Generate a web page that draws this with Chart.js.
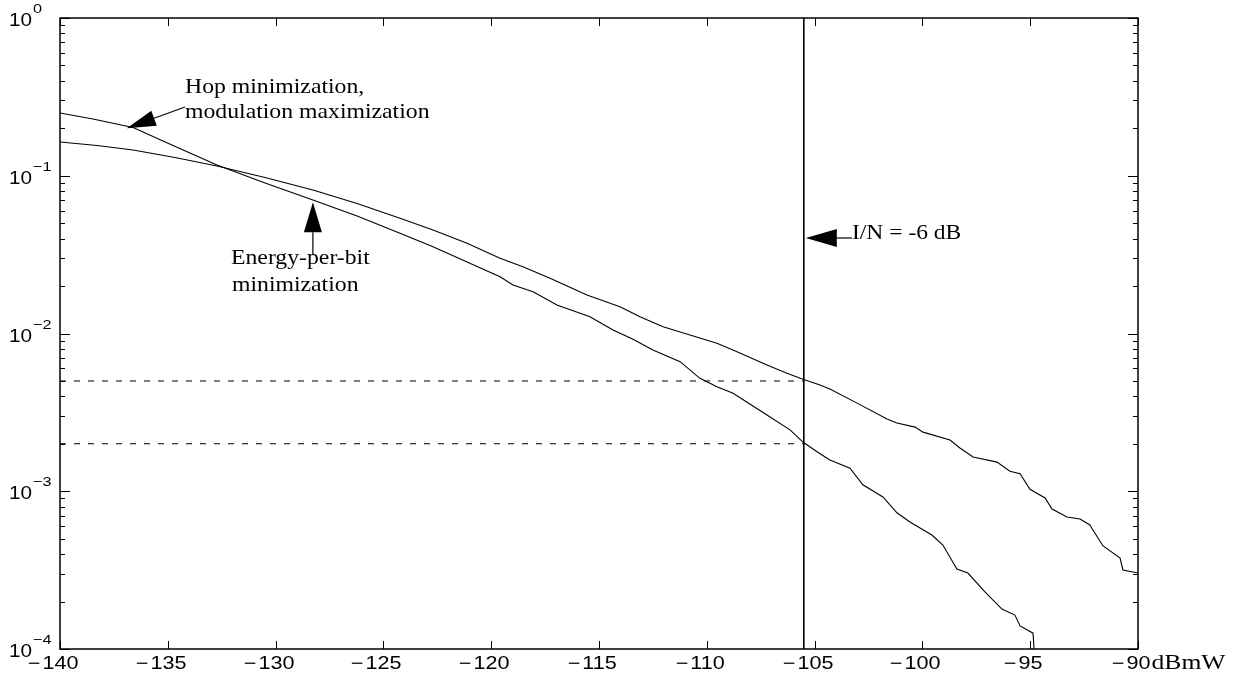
<!DOCTYPE html>
<html>
<head>
<meta charset="utf-8">
<script src="https://cdn.jsdelivr.net/npm/chart.js@4/dist/chart.umd.min.js"></script>
<style>
  html, body { margin: 0; padding: 0; background: #fff; }
  canvas { display: block; }
</style>
</head>
<body>
<canvas id="chart" width="1235" height="673"></canvas>
<script>
// hop minimization, modulation maximization (starts higher, ends lower)
const hopX = [-140, -138.47, -136.61, -134.81, -132.72, -130.49, -128.27, -126.22, -124.23, -122.70,
    -119.59, -118.99, -118.06, -116.95, -115.42, -114.35, -113.42, -112.50, -111.24, -110.32,
    -109.53, -108.78, -107.21, -106.14, -105.54, -104.89, -104.29, -103.36, -102.76, -101.83,
    -101.18, -100.58, -99.56, -99.05, -98.40, -97.89, -97.10, -96.31, -95.71, -95.47, -94.87, -94.82];
const hopY = [0.2499, 0.2290, 0.2022, 0.1566, 0.1170, 0.0899, 0.0702, 0.0556, 0.04317, 0.03549,
    0.02291, 0.02030, 0.01841, 0.01516, 0.01278, 0.01052, 0.00919, 0.00786, 0.00663, 0.00520,
    0.00460, 0.00418, 0.00304, 0.00245, 0.00205, 0.00178, 0.00158, 0.00140, 0.00110, 0.00092,
    0.00073, 0.000638, 0.000528, 0.000456, 0.000321, 0.000303, 0.00023, 0.000179, 0.000164,
    0.00014, 0.000126, 0.0001];

// energy-per-bit minimization
const ebX = [-140, -138.28, -136.61, -134.67, -132.72, -130.49, -128.27, -126.22, -124.23, -122.70,
    -121.12, -119.59, -118.53, -117.27, -115.56, -114.03, -113.10, -112.03, -110.78, -109.53,
    -108.60, -107.21, -106.28, -105.54, -104.75, -104.29, -103.03, -101.64, -101.18, -100.34,
    -99.97, -98.72, -98.26, -97.65, -96.54, -95.94, -95.47, -95.01, -94.31, -93.99, -93.29,
    -92.69, -92.23, -92.09, -91.62, -90.83, -90.70, -90];
const ebY = [0.1636, 0.1555, 0.1456, 0.1305, 0.1153, 0.0975, 0.0812, 0.0667, 0.05373, 0.04530,
    0.03729, 0.02997, 0.02652, 0.02239, 0.01754, 0.01478, 0.01278, 0.01104, 0.00978, 0.00867,
    0.00766, 0.00632, 0.00559, 0.00513, 0.00472, 0.00445, 0.00362, 0.00287, 0.00271, 0.00255,
    0.00237, 0.00211, 0.00188, 0.00165, 0.00153, 0.00134, 0.00129, 0.00103, 0.000906, 0.000771,
    0.000687, 0.000667, 0.000611, 0.000568, 0.000450, 0.000377, 0.000317, 0.000303];

const limitX = -105.5;          // I/N = -6 dB
const targetLevels = [5e-3, 2e-3];
const xTicks = [-140, -135, -130, -125, -120, -115, -110, -105, -100, -95, -90];
const yExponents = [0, -1, -2, -3, -4];

const pts = (xs, ys) => xs.map((x, i) => ({ x: x, y: ys[i] }));

const lineStyle = { borderColor: '#000', borderWidth: 1.1, pointRadius: 0, tension: 0, fill: false };

const datasets = [
    Object.assign({ data: pts(hopX, hopY) }, lineStyle),
    Object.assign({ data: pts(ebX, ebY) }, lineStyle),
    Object.assign({ data: [{ x: limitX, y: 1e-4 }, { x: limitX, y: 1 }] }, lineStyle, { borderWidth: 1.6 })
];
targetLevels.forEach(level => {
    datasets.push(Object.assign({ data: [{ x: -140, y: level }, { x: limitX, y: level }] },
        lineStyle, { borderWidth: 1, borderDash: [6, 8] }));
});

const SANS = '"Liberation Sans", Arial, sans-serif';
const SERIF = '"Liberation Serif", "Times New Roman", serif';

// text drawn a bit wider than the font, as in the source picture
function wideText(ctx, str, x, y, font, sx, align) {
    ctx.save();
    ctx.font = font;
    const w = ctx.measureText(str).width * sx;
    let left = x;
    if (align === 'center') left = x - w / 2;
    if (align === 'right') left = x - w;
    ctx.translate(left, y);
    ctx.scale(sx, 1);
    ctx.textAlign = 'left';
    ctx.fillText(str, 0, 0);
    ctx.restore();
    return w;
}

function arrowHead(ctx, tx, ty, fromX, fromY, len, half) {
    const a = Math.atan2(ty - fromY, tx - fromX);
    const bx = tx - len * Math.cos(a), by = ty - len * Math.sin(a);
    ctx.beginPath();
    ctx.moveTo(tx, ty);
    ctx.lineTo(bx + half * Math.sin(a), by - half * Math.cos(a));
    ctx.lineTo(bx - half * Math.sin(a), by + half * Math.cos(a));
    ctx.closePath();
    ctx.fill();
    return [bx, by];
}

const framePlugin = {
    id: 'frame',
    afterDraw(chart) {
        const ctx = chart.ctx;
        const area = chart.chartArea;
        const xs = chart.scales.x, ys = chart.scales.y;
        ctx.save();
        ctx.strokeStyle = '#000';
        ctx.fillStyle = '#000';
        ctx.textBaseline = 'alphabetic';

        // box
        ctx.lineWidth = 1.5;
        ctx.strokeRect(area.left, area.top, area.right - area.left, area.bottom - area.top);

        // x ticks, inward top and bottom; digits centred, minus hanging left
        ctx.lineWidth = 1;
        const tickFont = '18px ' + SANS;
        xTicks.forEach(v => {
            const px = Math.round(xs.getPixelForValue(v)) + 0.5;
            ctx.beginPath();
            ctx.moveTo(px, area.bottom); ctx.lineTo(px, area.bottom - 8);
            ctx.moveTo(px, area.top); ctx.lineTo(px, area.top + 8);
            ctx.stroke();
            const w = wideText(ctx, String(Math.abs(v)), px, area.bottom + 20, tickFont, 1.2, 'center');
            if (v < 0) wideText(ctx, '\u2212', px - w / 2 - 2, area.bottom + 20, tickFont, 1.2, 'right');
            if (v === -90) wideText(ctx, 'dBmW', px + w / 2 + 1, area.bottom + 20, '21px ' + SERIF, 1.22, 'left');
        });

        // y ticks, log scale with minor ticks, left and right
        yExponents.forEach(e => {
            for (let m = 1; m <= 9; m++) {
                const v = m * Math.pow(10, e - 1);
                if (v < ys.min * 0.999 || v > ys.max * 1.001) continue;
                const py = Math.round(ys.getPixelForValue(v)) + 0.5;
                const len = m === 1 ? 10 : 5;
                ctx.beginPath();
                ctx.moveTo(area.left, py); ctx.lineTo(area.left + len, py);
                ctx.moveTo(area.right, py); ctx.lineTo(area.right - len, py);
                ctx.stroke();
            }
        });
        const topPy = Math.round(ys.getPixelForValue(1)) + 0.5;
        ctx.beginPath();
        ctx.moveTo(area.left, topPy); ctx.lineTo(area.left + 10, topPy);
        ctx.moveTo(area.right, topPy); ctx.lineTo(area.right - 10, topPy);
        ctx.stroke();

        yExponents.forEach(e => {
            const py = ys.getPixelForValue(Math.pow(10, e));
            const w = wideText(ctx, '10', 9, py + 8, '18px ' + SANS, 1.15, 'left');
            wideText(ctx, e === 0 ? '0' : '\u2212' + Math.abs(e), 9 + w + 1, py - 5, '13px ' + SANS, 1.25, 'left');
        });

        // annotations
        const noteFont = '21px ' + SERIF;
        wideText(ctx, 'Hop minimization,', 185, 93, noteFont, 1.13, 'left');
        wideText(ctx, 'modulation maximization', 185, 118, noteFont, 1.13, 'left');
        wideText(ctx, 'Energy-per-bit', 231, 264, noteFont, 1.13, 'left');
        wideText(ctx, 'minimization', 232, 291, noteFont, 1.13, 'left');
        wideText(ctx, 'I/N = -6 dB', 852, 239, noteFont, 1.12, 'left');

        ctx.lineWidth = 1.2;
        // hop arrow to the hop curve
        const hx = xs.getPixelForValue(-136.9), hy = ys.getPixelForValue(0.2);
        let b = arrowHead(ctx, hx, hy, 185, 107, 29, 8);
        ctx.beginPath(); ctx.moveTo(b[0], b[1]); ctx.lineTo(185, 107); ctx.stroke();

        // energy-per-bit arrow
        const ex = xs.getPixelForValue(-128.27), ey = ys.getPixelForValue(0.068);
        b = arrowHead(ctx, ex, ey, ex, 255, 30, 9);
        ctx.beginPath(); ctx.moveTo(b[0], b[1]); ctx.lineTo(ex, 255); ctx.stroke();

        // I/N arrow
        const ix = xs.getPixelForValue(limitX), iy = 238;
        b = arrowHead(ctx, ix + 2, iy, 852, iy, 31, 9);
        ctx.beginPath(); ctx.moveTo(b[0], b[1]); ctx.lineTo(852, iy); ctx.stroke();

        ctx.restore();
    }
};

const config = {
    type: 'line',
    data: { datasets: datasets },
    options: {
        responsive: false,
        animation: false,
        devicePixelRatio: 1,
        layout: { padding: { left: 60, top: 18, right: 97, bottom: 24 } },
        plugins: { legend: { display: false }, tooltip: { enabled: false } },
        scales: {
            x: { type: 'linear', min: -140, max: -90, display: false },
            y: { type: 'logarithmic', min: 1e-4, max: 1, display: false }
        }
    },
    plugins: [framePlugin]
};

window.onload = function () {
    const ctx = document.getElementById('chart').getContext('2d');
    window.myChart = new Chart(ctx, config);
};
</script>
</body>
</html>
